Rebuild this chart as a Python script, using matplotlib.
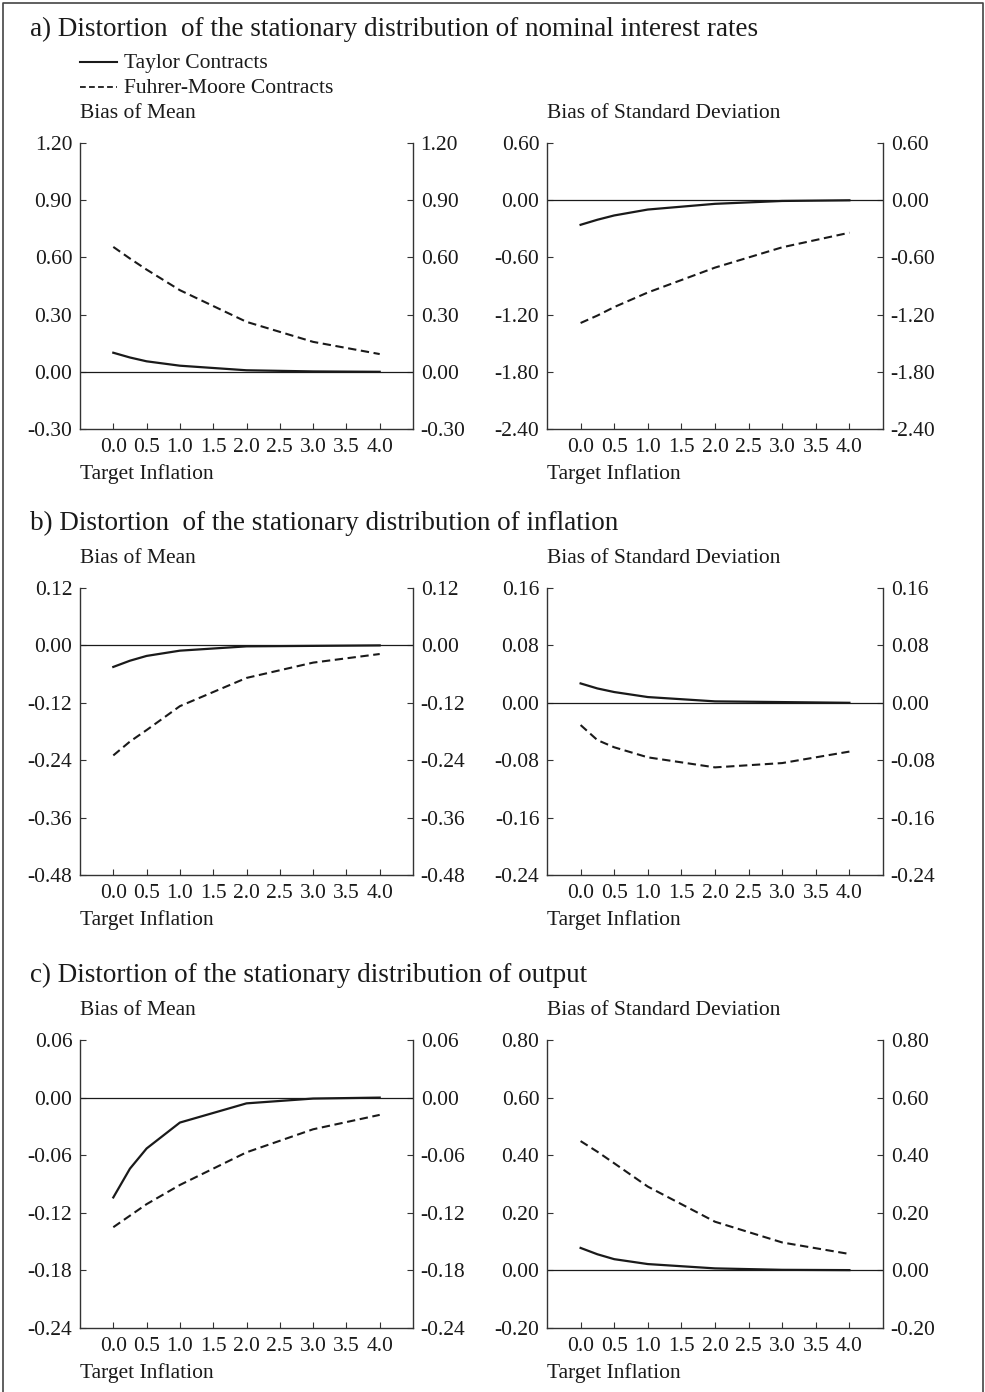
import matplotlib
matplotlib.use("Agg")
import matplotlib.pyplot as plt
from matplotlib.lines import Line2D

plt.rcParams['font.family'] = ['Liberation Serif', 'DejaVu Serif']
plt.rcParams['axes.unicode_minus'] = False

W, H = 985, 1392

# target inflation grid
target_inflation = [0.0, 0.25, 0.5, 1.0, 2.0, 3.0, 4.0]
x_ticks = [0.0, 0.5, 1.0, 1.5, 2.0, 2.5, 3.0, 3.5, 4.0]

# a) nominal interest rates
a_mean_taylor = [0.100, 0.075, 0.055, 0.032, 0.008, 0.002, 0.000]
a_mean_fm = [0.655, 0.594, 0.536, 0.428, 0.262, 0.157, 0.093]
a_sd_taylor = [-0.258, -0.205, -0.160, -0.098, -0.038, -0.008, -0.001]
a_sd_fm = [-1.288, -1.210, -1.121, -0.968, -0.707, -0.494, -0.341]
# b) inflation
b_mean_taylor = [-0.045, -0.032, -0.022, -0.011, -0.002, -0.001, 0.000]
b_mean_fm = [-0.230, -0.201, -0.177, -0.127, -0.068, -0.036, -0.018]
b_sd_taylor = [0.027, 0.020, 0.015, 0.008, 0.002, 0.001, 0.000]
b_sd_fm = [-0.031, -0.052, -0.062, -0.076, -0.090, -0.084, -0.068]
# c) output
c_mean_taylor = [-0.104, -0.074, -0.053, -0.026, -0.006, -0.001, 0.000]
c_mean_fm = [-0.135, -0.123, -0.111, -0.091, -0.057, -0.033, -0.018]
c_sd_taylor = [0.078, 0.056, 0.039, 0.022, 0.007, 0.002, 0.001]
c_sd_fm = [0.449, 0.412, 0.372, 0.291, 0.169, 0.097, 0.057]

a_mean_ticks = [-0.30, 0.00, 0.30, 0.60, 0.90, 1.20]
a_sd_ticks = [-2.40, -1.80, -1.20, -0.60, 0.00, 0.60]
b_mean_ticks = [-0.48, -0.36, -0.24, -0.12, 0.00, 0.12]
b_sd_ticks = [-0.24, -0.16, -0.08, 0.00, 0.08, 0.16]
c_mean_ticks = [-0.24, -0.18, -0.12, -0.06, 0.00, 0.06]
c_sd_ticks = [-0.20, 0.00, 0.20, 0.40, 0.60, 0.80]

titles = ["a) Distortion  of the stationary distribution of nominal interest rates",
          "b) Distortion  of the stationary distribution of inflation",
          "c) Distortion of the stationary distribution of output"]

INK = '#1a1a1a'
FS = 15.5
TITLE_FS = 19.5

fig = plt.figure(figsize=(W / 100, H / 100), dpi=100)


def fx(px):
    return px / W


def fy(py):
    return 1 - py / H


def put_text(x, y, s, size=FS):
    fig.text(fx(x), fy(y), s, fontsize=size, color=INK, va='baseline', ha='left')


def panel(left, right, top, bottom, taylor, fm, yticks):
    ax = fig.add_axes([fx(left), fy(bottom), fx(right - left), (bottom - top) / H])
    ax.plot(target_inflation, taylor, color=INK, lw=1.6)
    ax.plot(target_inflation, fm, color=INK, lw=1.5, ls=(0, (4, 2.2)))
    ax.axhline(0, color=INK, lw=0.9)
    ax.set_xlim(-0.5, 4.5)
    ax.set_ylim(yticks[0], yticks[-1])
    ax.set_xticks(x_ticks)
    ax.set_xticklabels(['%.1f' % v for v in x_ticks])
    ax.set_yticks(yticks)
    ax.set_yticklabels(['%.2f' % v for v in yticks])
    ax.spines['top'].set_visible(False)
    for s in ['left', 'right', 'bottom']:
        ax.spines[s].set_color('#333333')
        ax.spines[s].set_linewidth(1.0)
    ax.tick_params(axis='y', direction='in', length=4, width=0.8, color='#333333',
                   left=True, right=True, labelleft=True, labelright=True,
                   labelsize=FS, labelcolor=INK, pad=5.5)
    ax.tick_params(axis='x', direction='in', length=4, width=0.8, color='#333333',
                   labelsize=FS, labelcolor=INK, pad=6.5)
    return ax


# panel geometry in pixels: (left, right) for columns, (top, bottom) for rows
cols = [(80, 413), (547, 883)]
rows = [(143, 429), (588, 875), (1040, 1328)]

series = [
    [(a_mean_taylor, a_mean_fm, a_mean_ticks), (a_sd_taylor, a_sd_fm, a_sd_ticks)],
    [(b_mean_taylor, b_mean_fm, b_mean_ticks), (b_sd_taylor, b_sd_fm, b_sd_ticks)],
    [(c_mean_taylor, c_mean_fm, c_mean_ticks), (c_sd_taylor, c_sd_fm, c_sd_ticks)],
]

for r, (top, bottom) in enumerate(rows):
    title_y = 36 if r == 0 else top - 58
    put_text(30, title_y, titles[r], size=TITLE_FS)
    for c, (left, right) in enumerate(cols):
        taylor, fm, ticks = series[r][c]
        panel(left, right, top, bottom, taylor, fm, ticks)
        put_text(left, top - 25, "Bias of Mean" if c == 0 else "Bias of Standard Deviation")
        put_text(left, bottom + 50, "Target Inflation")

# legend
fig.add_artist(Line2D([fx(80), fx(117)], [fy(62), fy(62)], color=INK, lw=1.5))
fig.add_artist(Line2D([fx(80), fx(117)], [fy(87), fy(87)], color=INK, lw=1.3,
                      ls=(0, (3.2, 1.8))))
put_text(124, 68, "Taylor Contracts")
put_text(124, 93, "Fuhrer-Moore Contracts")

# outer frame, open at the bottom
fig.add_artist(Line2D([fx(2.5), fx(2.5), fx(982.5), fx(982.5)],
                      [fy(1392), fy(2.5), fy(2.5), fy(1392)],
                      color='#444444', lw=1.2))

fig.savefig("out.png", dpi=100)
